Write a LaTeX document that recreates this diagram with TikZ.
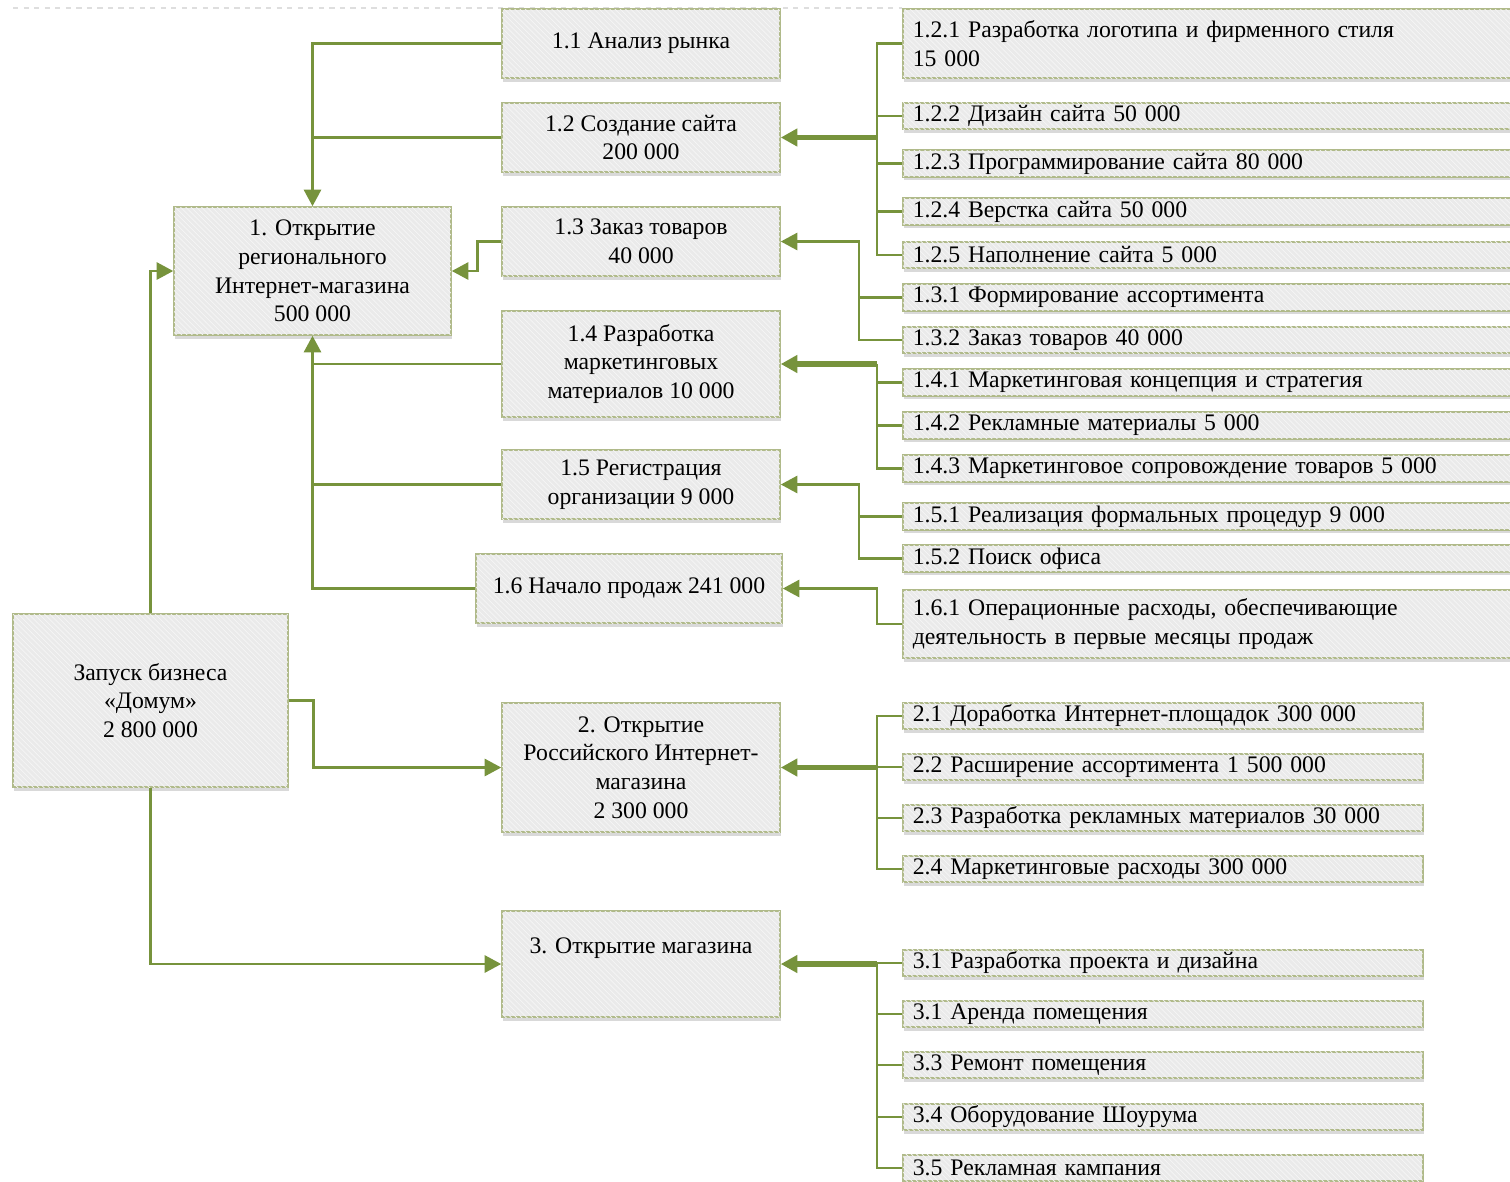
\documentclass[tikz,border=0pt]{standalone}
\usepackage{fontspec}
\setmainfont{Liberation Serif}
\usetikzlibrary{arrows.meta,shadows,patterns}
\definecolor{linkgreen}{RGB}{119,147,60}
\definecolor{boxline}{RGB}{176,186,138}
\definecolor{boxfill}{RGB}{234,234,234}
\definecolor{pageline}{RGB}{222,222,222}

\begin{document}
\begin{tikzpicture}[
  x=0.02cm, y=-0.02cm,
  box/.style={draw=boxline, line width=0.9pt, fill=boxfill,
    postaction={pattern=north west lines, pattern color=white!55!boxfill},
    drop shadow={shadow xshift=0.6pt, shadow yshift=-2pt, opacity=0.3},
    font=\fontsize{13.5}{16.3}\selectfont, inner sep=0pt},
  task/.style={box, align=center, minimum width=5.56cm},
  leaf/.style={box, anchor=west, align=left, minimum height=0.53cm,
    inner xsep=0.2cm, text width=#1},
  leaf/.default=11.76cm,
  link/.style={draw=linkgreen, line width=1.5pt},
  buslink/.style={link, line width=3pt},
  arr/.style={-{Triangle[length=0.33cm,width=0.34cm]}},
]
  \useasboundingbox (0,0) rectangle (1510,1181);
  % пунктир края страницы
  \draw[pageline, dashed, line width=0.6pt] (13,8) -- (902,8);

  % корень и задачи первого уровня
  \node[box, align=center, minimum width=5.5cm, minimum height=3.46cm]
    (root) at (150.5,700.5) {Запуск бизнеса\\«Домум»\\2 800 000};
  \node[box, align=center, minimum width=5.54cm, minimum height=2.56cm]
    (n1) at (312.5,271) {1. Открытие\\регионального\\Интернет-магазина\\500 000};
  \node[task, minimum height=2.58cm] (n2) at (641,767.5)
    {2. Открытие\\Российского Интернет-\\магазина\\2 300 000};
  \node[task, minimum height=2.12cm] (n3) at (641,964)
    {3. Открытие магазина\\\strut};

  % задачи 1.x
  \node[task, minimum height=1.38cm] (n11) at (641,43.5) {1.1 Анализ рынка};
  \node[task, minimum height=1.38cm] (n12) at (641,137.5) {1.2 Создание сайта\\200 000};
  \node[task, minimum height=1.38cm] (n13) at (641,241.5) {1.3 Заказ товаров\\40 000};
  \node[task, minimum height=2.12cm] (n14) at (641,364)
    {1.4 Разработка\\маркетинговых\\материалов 10 000};
  \node[task, minimum height=1.38cm] (n15) at (641,484.5)
    {1.5 Регистрация\\организации 9 000};
  \node[task, minimum width=6.12cm, minimum height=1.38cm] (n16) at (629,588.5)
    {1.6 Начало продаж 241 000};

  % подзадачи первого блока
  \node[leaf, minimum height=1.38cm] (l121) at (902,43.5)
    {1.2.1 Разработка логотипа и фирменного стиля\\15 000};
  \foreach \n/\y/\txt in {
    122/116/{1.2.2 Дизайн сайта 50 000},
    123/163.5/{1.2.3 Программирование сайта 80 000},
    124/211.5/{1.2.4 Верстка сайта 50 000},
    125/255/{1.2.5 Наполнение сайта 5 000},
    131/297.5/{1.3.1 Формирование ассортимента},
    132/340/{1.3.2 Заказ товаров 40 000},
    141/382.5/{1.4.1 Маркетинговая концепция и стратегия},
    142/425.5/{1.4.2 Рекламные материалы 5 000},
    143/468.5/{1.4.3 Маркетинговое сопровождение товаров 5 000},
    151/516.5/{1.5.1 Реализация формальных процедур 9 000},
    152/558.5/{1.5.2 Поиск офиса}
  } {
    \node[leaf] (l\n) at (902,\y) {\txt};
  }
  \node[leaf, minimum height=1.36cm] (l161) at (902,624)
    {1.6.1 Операционные расходы, обеспечивающие\\деятельность в первые месяцы продаж};

  % подзадачи 2 и 3
  \foreach \n/\y/\txt in {
    21/716/{2.1 Доработка Интернет-площадок 300 000},
    22/767/{2.2 Расширение ассортимента 1 500 000},
    23/818/{2.3 Разработка рекламных материалов 30 000},
    24/869/{2.4 Маркетинговые расходы 300 000},
    31/963/{3.1 Разработка проекта и дизайна},
    32/1014/{3.1 Аренда помещения},
    33/1065/{3.3 Ремонт помещения},
    34/1117/{3.4 Оборудование Шоурума},
    35/1168/{3.5 Рекламная кампания}
  } {
    \node[leaf=10cm] (l\n) at (902,\y) {\txt};
  }

  \coordinate (bus) at (877,0);
  \coordinate (busb) at (859,0);

  % связи слева
  \draw[link, arr] (n11.west) -| (n1.north);
  \draw[link] (n12.west) -- (n12.west -| n1.north);
  \draw[link, arr] (n13.west) -- ++(-24,0) |- (n1.east);
  \draw[link] (n14.west) -- (n14.west -| n1.south);
  \draw[link] (n15.west) -- (n15.west -| n1.south);
  \draw[link, arr] (n16.west) -| (n1.south);
  \draw[link, arr] (root.north) |- (n1.west);
  \draw[link, arr] (root.east) -- ++(25,0) |- (n2.west);
  \draw[link, arr] (root.south) |- (n3.west);

  % шины справа
  \draw[link] (l121.west) -- (l121.west -| bus) -- (l125.west -| bus) -- (l125.west);
  \foreach \n in {122,123,124} \draw[link] (l\n.west) -- (l\n.west -| bus);
  \draw[buslink, arr] (n12.east -| bus) -- (n12.east);

  \draw[link, arr] (l132.west) -- (l132.west -| busb) |- (n13.east);
  \draw[link] (l131.west) -- (l131.west -| busb);

  \draw[link] (n14.east -| bus) |- (l143.west);
  \foreach \n in {141,142} \draw[link] (l\n.west) -- (l\n.west -| bus);
  \draw[buslink, arr] (n14.east -| bus) -- (n14.east);

  \draw[link, arr] (l152.west) -- (l152.west -| busb) |- (n15.east);
  \draw[link] (l151.west) -- (l151.west -| busb);

  \draw[link, arr] (l161.west) -- (l161.west -| bus) |- (n16.east);

  \draw[link] (l21.west) -| (l24.west -| bus) -- (l24.west);
  \foreach \n in {22,23} \draw[link] (l\n.west) -- (l\n.west -| bus);
  \draw[buslink, arr] (n2.east -| bus) -- (n2.east);

  \draw[link] (l31.west) -| (l35.west -| bus) -- (l35.west);
  \foreach \n in {32,33,34} \draw[link] (l\n.west) -- (l\n.west -| bus);
  \draw[buslink, arr] (n3.east -| bus) -- (n3.east);
\end{tikzpicture}
\end{document}
